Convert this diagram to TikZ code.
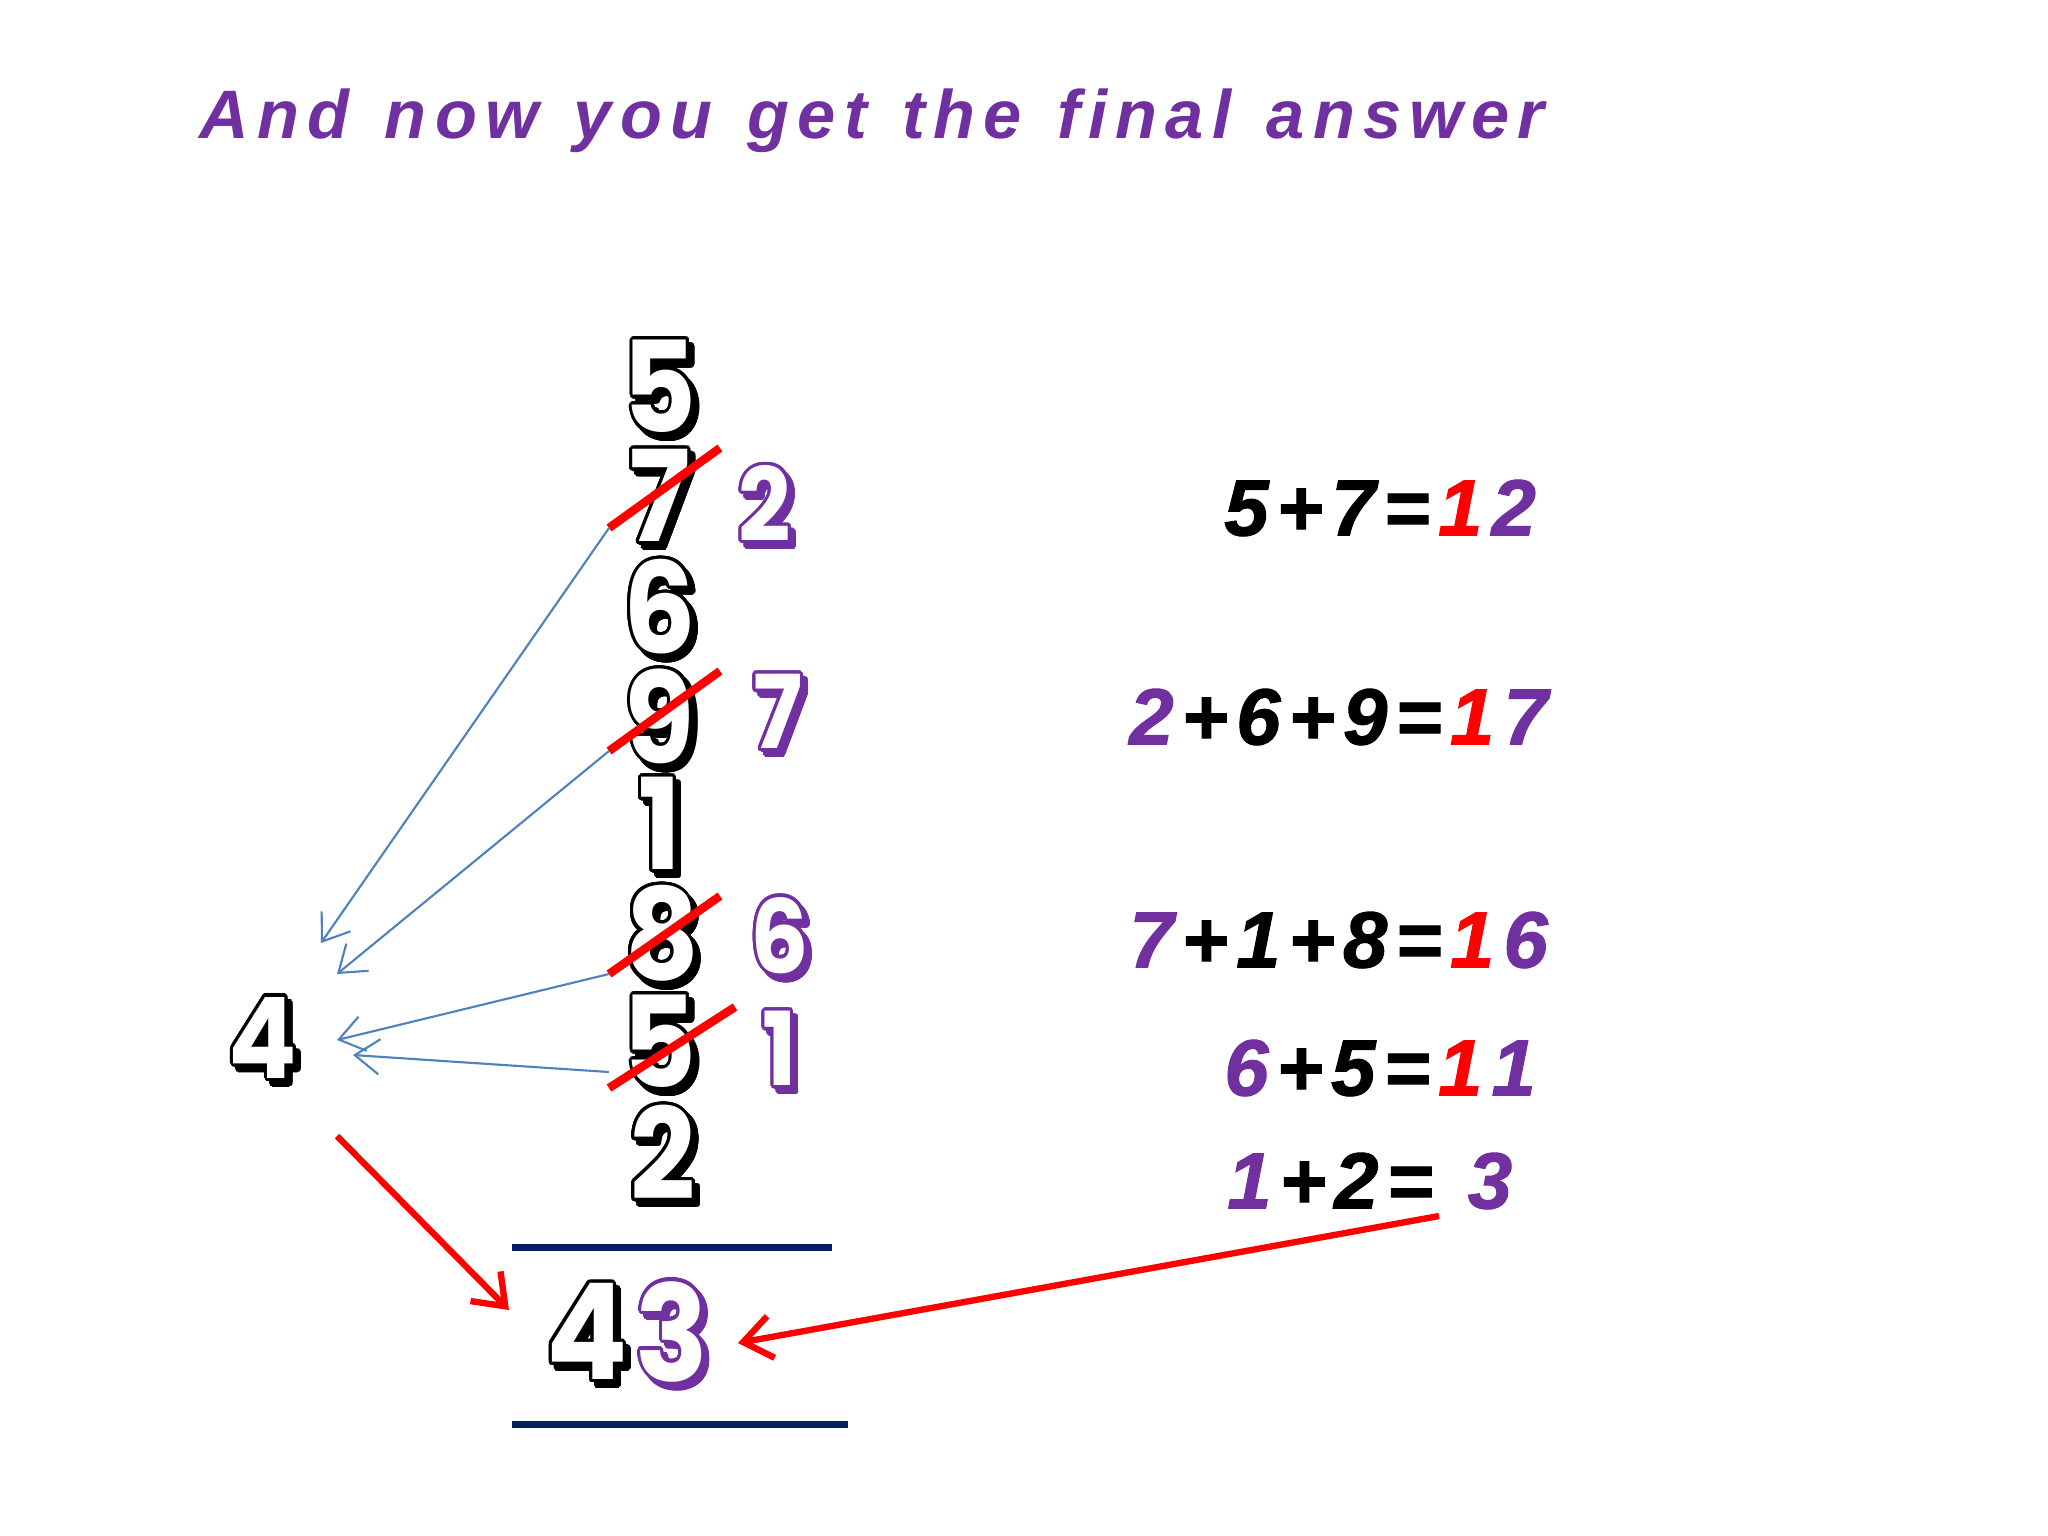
\documentclass[tikz,border=0pt]{standalone}
\usepackage{fontspec}
\setmainfont{Liberation Sans}
\newfontfamily\bubfont{Poppins}
\newfontfamily\ttlfam{Liberation Sans}[LetterSpace=12,WordSpace=1.3]
\newfontfamily\eqfam{Liberation Sans}[BoldItalicFeatures={FakeBold=1.2}]
\usepackage{graphicx}
\usepackage{contour}
\usetikzlibrary{arrows.meta}
\definecolor{purp}{HTML}{7030A0}
\definecolor{navy}{HTML}{002060}
\definecolor{bline}{HTML}{4F81BD}
\definecolor{redx}{HTML}{FF0000}
\contournumber{24}
\contourlength{0.95pt}
\newcommand\bubd[3]{\scalebox{0.9}[1]{\makebox[0pt][l]{\hspace*{1.6pt}\raisebox{-1.6pt}{\contour{#1}{\textcolor{#1}{#3}}}}\contour{#1}{\textcolor{#2}{#3}}}}
\newcommand\eqfont{\eqfam\fontsize{22.7}{24}\selectfont\bfseries\itshape}
\newcommand\ttlfont{\ttlfam\fontsize{19.5}{20}\selectfont\bfseries\itshape}
\newcommand\ch[1]{\makebox[15.2pt][c]{#1}}
\newcommand\chs{\makebox[7.6pt]{}}
\tikzset{
  bub/.style={inner sep=0pt, font=\bubfont\bfseries\fontsize{36}{36}\selectfont},
  carry/.style={inner sep=0pt, font=\bubfont\bfseries\fontsize{29}{29}\selectfont},
  eqn/.style={inner sep=0pt, anchor=west, font=\eqfont},
  strike/.style={redx, line width=2.4pt},
  blarrow/.style={bline, line width=0.6pt, -{Straight Barb[length=7pt,width=10pt]}},
  redarrow/.style={redx, line width=1.8pt, -{Straight Barb[length=8pt,width=12pt]}},
  rulebar/.style={navy, line width=2pt}
}
\begin{document}
\begin{tikzpicture}[x=0.01cm,y=-0.01cm]
\useasboundingbox (0,0) rectangle (2048,1536);
\fill[white] (0,0) rectangle (2048,1536);
% title
\node[anchor=base west, inner sep=0pt, text=purp, font=\ttlfont] (title) at (199,138) {And now you get the final answer};
% column digits
\node[bub] (d1) at (660,391) {\bubd{black}{white}{5}};
\node[bub] (d2) at (660,500) {\bubd{black}{white}{7}};
\node[bub] (d3) at (660,611) {\bubd{black}{white}{6}};
\node[bub] (d4) at (660,721) {\bubd{black}{white}{9}};
\node[bub] (d5) at (660,828) {\bubd{black}{white}{1}};
\node[bub] (d6) at (662,938) {\bubd{black}{white}{8}};
\node[bub] (d7) at (660,1046) {\bubd{black}{white}{5}};
\node[bub] (d8) at (663,1157) {\bubd{black}{white}{2}};
% carries
\node[carry] (c1) at (765,508) {\bubd{purp}{white}{2}};
\node[carry] (c2) at (778,716) {\bubd{purp}{white}{7}};
\node[carry] (c3) at (780,940) {\bubd{purp}{white}{6}};
\node[carry] (c4) at (780,1053) {\bubd{purp}{white}{1}};
% left 4
\node[carry, font=\bubfont\bfseries\fontsize{32}{32}\selectfont] (four) at (263,1042) {\bubd{black}{white}{4}};
% result
\node[bub, font=\bubfont\bfseries\fontsize{38}{38}\selectfont] (r4) at (587,1336) {\bubd{black}{white}{4}};
\node[bub, font=\bubfont\bfseries\fontsize{38}{38}\selectfont] (r3) at (672,1336) {\bubd{purp}{white}{3}};
% rules
\coordinate (u1) at (512,1247); \coordinate (u2) at (832,1247);
\coordinate (v1) at (512,1424); \coordinate (v2) at (848,1424);
\draw[rulebar] (u1) -- (u2);
\draw[rulebar] (v1) -- (v2);
% strikes
\coordinate (k1a) at (609,528); \coordinate (k1b) at (720,448);
\coordinate (k2a) at (609,751); \coordinate (k2b) at (720,671);
\coordinate (k3a) at (609,974); \coordinate (k3b) at (720,896);
\coordinate (k4a) at (609,1088); \coordinate (k4b) at (735,1007);
\coordinate (k4s) at (609,1072);
\draw[strike] (k1a) -- (k1b);
\draw[strike] (k2a) -- (k2b);
\draw[strike] (k3a) -- (k3b);
\draw[strike] (k4a) -- (k4b);
% blue arrows
\coordinate (t1) at (321,943);
\coordinate (t2) at (337,974);
\coordinate (t3) at (337,1040);
\coordinate (t4) at (353,1055);
\draw[blarrow] (k1a) -- (t1);
\draw[blarrow] (k2a) -- (t2);
\draw[blarrow] (k3a) -- (t3);
\draw[blarrow] (k4s) -- (t4);
% equations
\node[eqn] (e1) at (1219,508) {\ch{5}\ch{+}\ch{7}\ch{=}\ch{\textcolor{redx}{1}}\ch{\textcolor{purp}{2}}};
\node[eqn] (e2) at (1124,717) {\ch{\textcolor{purp}{2}}\ch{+}\ch{6}\ch{+}\ch{9}\ch{=}\ch{\textcolor{redx}{1}}\ch{\textcolor{purp}{7}}};
\node[eqn] (e3) at (1124,940) {\ch{\textcolor{purp}{7}}\ch{+}\ch{1}\ch{+}\ch{8}\ch{=}\ch{\textcolor{redx}{1}}\ch{\textcolor{purp}{6}}};
\node[eqn] (e4) at (1219,1068) {\ch{\textcolor{purp}{6}}\ch{+}\ch{5}\ch{=}\ch{\textcolor{redx}{1}}\ch{\textcolor{purp}{1}}};
\node[eqn] (e5) at (1222,1181) {\ch{\textcolor{purp}{1}}\ch{+}\ch{2}\ch{=}\chs\ch{\textcolor{purp}{3}}};
% red arrows
\coordinate (a1s) at (337,1136); \coordinate (a1e) at (509,1310);
\coordinate (a2s) at (1439,1216); \coordinate (a2e) at (738,1343);
\draw[redarrow] (a1s) -- (a1e);
\draw[redarrow] (a2s) -- (a2e);
\end{tikzpicture}
\end{document}
